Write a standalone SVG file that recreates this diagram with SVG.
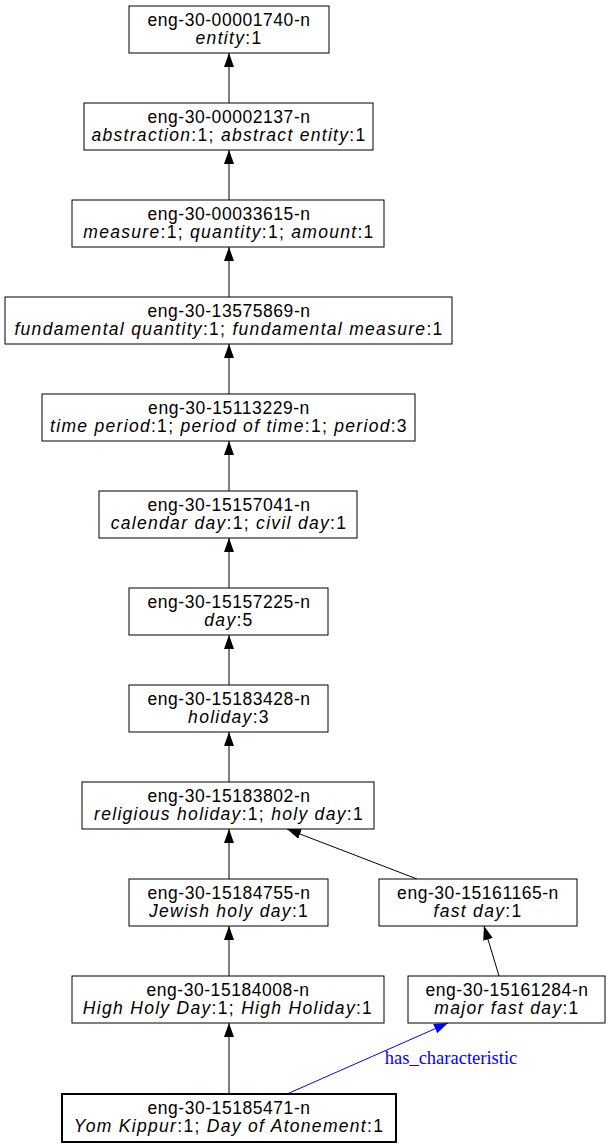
<svg xmlns="http://www.w3.org/2000/svg" width="611" height="1148" viewBox="0 0 611 1148">
<style>
.n rect{fill:#fff;stroke:#000;stroke-width:1}
.n text{font-family:"Liberation Sans",Arial,sans-serif;font-size:17.5px;fill:#000;text-anchor:middle;letter-spacing:0.55px}
.n text.s{letter-spacing:1.3px}
.i{font-style:italic}
.e{fill:none;stroke:#000;stroke-width:1}
.b{fill:none;stroke:#0000ff;stroke-width:1}
.lbl{font-family:"Liberation Serif","Times New Roman",serif;font-size:18.5px;fill:#0000ff;text-anchor:middle}
</style>
<defs>
<marker id="ah" markerUnits="userSpaceOnUse" markerWidth="14" markerHeight="10" refX="14" refY="5" orient="auto" viewBox="0 0 14 10"><path d="M0,0 L14,5 L0,10 z" fill="#000"/></marker>
<marker id="ahb" markerUnits="userSpaceOnUse" markerWidth="14" markerHeight="10" refX="14" refY="5" orient="auto" viewBox="0 0 14 10"><path d="M0,0 L14,5 L0,10 z" fill="#0000ff"/></marker>
</defs>
<rect x="0" y="0" width="611" height="1148" fill="#fff"/>
<g id="edges">
<line class="e" x1="229" y1="103" x2="229" y2="53" marker-end="url(#ah)"/>
<line class="e" x1="229" y1="200" x2="229" y2="150" marker-end="url(#ah)"/>
<line class="e" x1="229" y1="297" x2="229" y2="247" marker-end="url(#ah)"/>
<line class="e" x1="229" y1="394" x2="229" y2="344" marker-end="url(#ah)"/>
<line class="e" x1="229" y1="491" x2="229" y2="441" marker-end="url(#ah)"/>
<line class="e" x1="229" y1="588" x2="229" y2="538" marker-end="url(#ah)"/>
<line class="e" x1="229" y1="685" x2="229" y2="635" marker-end="url(#ah)"/>
<line class="e" x1="229" y1="782" x2="229" y2="732" marker-end="url(#ah)"/>
<line class="e" x1="229" y1="879" x2="229" y2="829" marker-end="url(#ah)"/>
<line class="e" x1="229" y1="976" x2="229" y2="926" marker-end="url(#ah)"/>
<line class="e" x1="229" y1="1094" x2="229" y2="1023" marker-end="url(#ah)"/>
<line class="e" x1="417" y1="879" x2="287" y2="829" marker-end="url(#ah)"/>
<line class="e" x1="499" y1="976" x2="484" y2="926" marker-end="url(#ah)"/>
<line class="b" x1="287" y1="1094" x2="448" y2="1023" marker-end="url(#ahb)"/>
<text class="lbl" x="451" y="1064">has_characteristic</text>
</g>
<g id="n00001740" class="n"><rect x="129" y="6" width="200" height="47"/><text x="229" y="26">eng-30-00001740-n</text><text class="s" x="229" y="44"><tspan class="i">entity</tspan>:1</text></g>
<g id="n00002137" class="n"><rect x="84" y="103" width="289" height="47"/><text x="229" y="123">eng-30-00002137-n</text><text class="s" x="229" y="141"><tspan class="i">abstraction</tspan>:1; <tspan class="i">abstract entity</tspan>:1</text></g>
<g id="n00033615" class="n"><rect x="72" y="200" width="312" height="47"/><text x="229" y="220">eng-30-00033615-n</text><text class="s" x="229" y="238"><tspan class="i">measure</tspan>:1; <tspan class="i">quantity</tspan>:1; <tspan class="i">amount</tspan>:1</text></g>
<g id="n13575869" class="n"><rect x="5" y="297" width="447" height="47"/><text x="229" y="317">eng-30-13575869-n</text><text class="s" x="229" y="335"><tspan class="i">fundamental quantity</tspan>:1; <tspan class="i">fundamental measure</tspan>:1</text></g>
<g id="n15113229" class="n"><rect x="42" y="394" width="373" height="47"/><text x="229" y="414">eng-30-15113229-n</text><text class="s" x="229" y="432"><tspan class="i">time period</tspan>:1; <tspan class="i">period of time</tspan>:1; <tspan class="i">period</tspan>:3</text></g>
<g id="n15157041" class="n"><rect x="99" y="491" width="258" height="47"/><text x="229" y="511">eng-30-15157041-n</text><text class="s" x="229" y="529"><tspan class="i">calendar day</tspan>:1; <tspan class="i">civil day</tspan>:1</text></g>
<g id="n15157225" class="n"><rect x="129" y="588" width="199" height="47"/><text x="229" y="608">eng-30-15157225-n</text><text class="s" x="229" y="626"><tspan class="i">day</tspan>:5</text></g>
<g id="n15183428" class="n"><rect x="129" y="685" width="199" height="47"/><text x="229" y="705">eng-30-15183428-n</text><text class="s" x="229" y="723"><tspan class="i">holiday</tspan>:3</text></g>
<g id="n15183802" class="n"><rect x="82" y="782" width="292" height="47"/><text x="229" y="802">eng-30-15183802-n</text><text class="s" x="229" y="820"><tspan class="i">religious holiday</tspan>:1; <tspan class="i">holy day</tspan>:1</text></g>
<g id="n15184755" class="n"><rect x="129" y="879" width="199" height="47"/><text x="229" y="899">eng-30-15184755-n</text><text class="s" x="229" y="917"><tspan class="i">Jewish holy day</tspan>:1</text></g>
<g id="n15161165" class="n"><rect x="379" y="879" width="198" height="47"/><text x="478" y="899">eng-30-15161165-n</text><text class="s" x="478" y="917"><tspan class="i">fast day</tspan>:1</text></g>
<g id="n15184008" class="n"><rect x="72" y="976" width="312" height="47"/><text x="228" y="996">eng-30-15184008-n</text><text class="s" x="228" y="1014"><tspan class="i">High Holy Day</tspan>:1; <tspan class="i">High Holiday</tspan>:1</text></g>
<g id="n15161284" class="n"><rect x="408" y="976" width="197" height="47"/><text x="507" y="996">eng-30-15161284-n</text><text class="s" x="507" y="1014"><tspan class="i">major fast day</tspan>:1</text></g>
<g id="n15185471" class="n"><rect x="62" y="1094" width="334" height="48" style="stroke-width:2"/><text x="229" y="1114">eng-30-15185471-n</text><text class="s" x="229" y="1132"><tspan class="i">Yom Kippur</tspan>:1; <tspan class="i">Day of Atonement</tspan>:1</text></g>
</svg>
